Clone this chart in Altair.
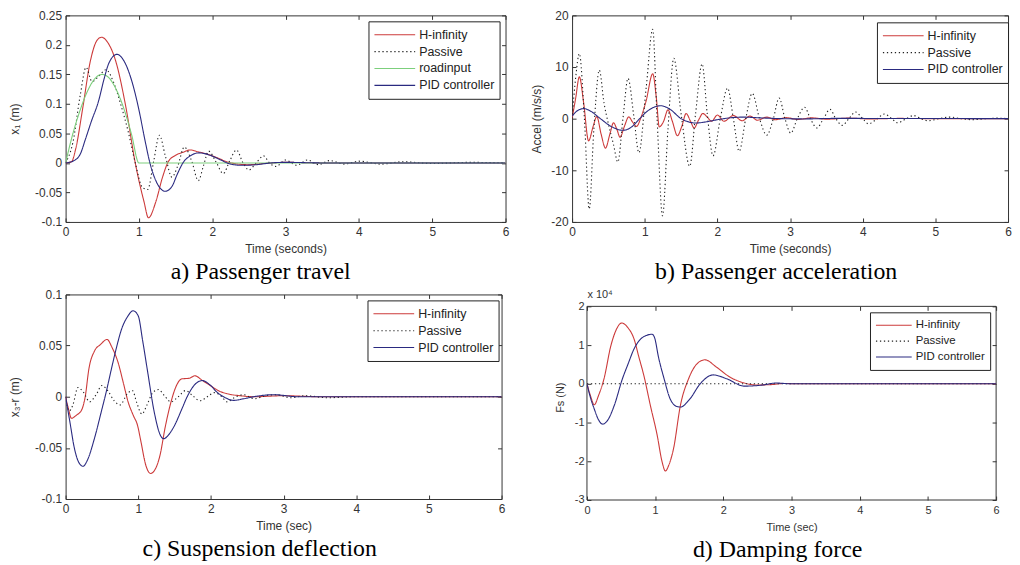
import altair as alt
import pandas as pd

# ---------------- data ----------------
XTICKS = [0, 1, 2, 3, 4, 5, 6]

# a) Passenger travel, x1 (m)
A_HINF_T = [0, 0.08, 0.14, 0.23, 0.34, 0.43, 0.49, 0.57, 0.68, 0.82, 0.95, 1.07, 1.13, 1.23, 1.32, 1.4,
            1.5, 1.6, 1.7, 1.8, 1.9, 2.0, 2.1, 2.2, 2.3, 2.5, 2.7, 3.0, 3.5, 6.0]
A_HINF_V = [0, 0.002, 0.025, 0.09, 0.174, 0.208, 0.213, 0.205, 0.174, 0.096, 0.0, -0.066, -0.093, -0.066,
            -0.025, 0.002, 0.013, 0.018, 0.022, 0.019, 0.016, 0.012, 0.007, 0.002, -0.001, -0.003, -0.001,
            0.001, 0.0, 0.0]
A_PASS_T = [0, 0.1, 0.2, 0.28, 0.36, 0.46, 0.55, 0.65, 0.75, 0.85, 0.95, 1.05, 1.12, 1.2, 1.28, 1.36, 1.45,
            1.53, 1.62, 1.72, 1.81, 1.88, 1.95, 2.05, 2.15, 2.24, 2.33, 2.42, 2.5, 2.6, 2.7, 2.78, 2.87, 3.0,
            3.15, 3.3, 3.45, 3.6, 3.8, 4.0, 4.3, 4.6, 5.0, 5.5, 6.0]
A_PASS_V = [0, 0.035, 0.115, 0.162, 0.138, 0.148, 0.158, 0.138, 0.1, 0.055, 0.0, -0.042, -0.045, 0.002,
            0.047, 0.012, -0.024, -0.005, 0.027, 0.003, -0.03, -0.005, 0.02, 0.002, -0.018, 0.004, 0.022,
            0.0, -0.012, 0.0, 0.012, 0.0, -0.006, 0.005, -0.004, 0.005, -0.003, 0.004, -0.002, 0.003,
            -0.002, 0.002, -0.001, 0.001, 0.0]
A_ROAD_T = [0, 0.1, 0.2, 0.3, 0.4, 0.5, 0.6, 0.7, 0.8, 0.9, 1.0, 6.0]
A_ROAD_V = [0, 0.05, 0.09, 0.122, 0.143, 0.15, 0.143, 0.122, 0.09, 0.048, 0.0, 0.0]
A_PID_T = [0, 0.1, 0.2, 0.27, 0.35, 0.45, 0.52, 0.59, 0.7, 0.8, 0.9, 1.0, 1.08, 1.15, 1.25, 1.36, 1.45,
           1.52, 1.6, 1.7, 1.82, 1.95, 2.1, 2.25, 2.4, 2.6, 2.8, 3.0, 3.5, 6.0]
A_PID_V = [0, 0.003, 0.015, 0.04, 0.07, 0.105, 0.14, 0.169, 0.184, 0.172, 0.14, 0.09, 0.04, 0.0, -0.035,
           -0.048, -0.04, -0.02, 0.0, 0.012, 0.017, 0.014, 0.006, -0.002, -0.004, -0.003, 0.0, 0.001, 0.0,
           0.0]
A_YTICKS = [-0.1, -0.05, 0, 0.05, 0.1, 0.15, 0.2, 0.25]

# b) Passenger acceleration (m/s/s)
B_HINF_T = [0, 0.05, 0.1, 0.16, 0.227, 0.29, 0.34, 0.4, 0.46, 0.52, 0.57, 0.62, 0.66, 0.72, 0.78, 0.83,
            0.886, 0.95, 1.02, 1.11, 1.16, 1.2, 1.26, 1.32, 1.38, 1.45, 1.51, 1.57, 1.63, 1.68, 1.74, 1.8,
            1.86, 1.92, 2.0, 2.09, 2.22, 2.34, 2.45, 2.55, 2.68, 2.8, 2.95, 3.1, 3.3, 3.5, 3.8, 4.1, 4.5,
            5.0, 6.0]
B_HINF_V = [0, 4.0, 8.1, 3.0, -4.3, -1.5, 0.4, -3.0, -5.7, -3.0, -0.8, -2.2, -3.6, -1.5, 0.35, -0.6, -1.5,
            0.3, 3.5, 8.7, 4.0, -1.6, -0.5, 1.7, -0.5, -3.3, -1.5, 1.0, -0.5, -1.8, -0.3, 1.0, 0.3, -0.5,
            0.7, -0.5, 0.6, -0.4, 0.5, -0.3, 0.3, -0.2, 0.2, -0.15, 0.15, -0.1, 0.1, -0.05, 0.05, 0.0, 0.0]
B_PASS_T = [0, 0.05, 0.1, 0.17, 0.236, 0.3, 0.375, 0.44, 0.5, 0.57, 0.63, 0.7, 0.77, 0.85, 0.92, 1.02,
            1.11, 1.17, 1.245, 1.32, 1.4, 1.5, 1.62, 1.7, 1.79, 1.86, 1.94, 2.04, 2.14, 2.22, 2.3, 2.39,
            2.48, 2.58, 2.68, 2.77, 2.85, 2.93, 3.01, 3.1, 3.2, 3.28, 3.37, 3.46, 3.55, 3.63, 3.72, 3.81,
            3.9, 4.0, 4.08, 4.2, 4.3, 4.4, 4.48, 4.6, 4.7, 4.8, 4.9, 5.05, 5.2, 5.35, 5.5, 5.7, 5.85, 6.0]
B_PASS_V = [0, 8.0, 12.6, 0.0, -17.5, -2.0, 9.4, 3.0, -1.0, -5.0, -8.4, 0.0, 7.8, 0.5, -6.6, 6.0, 17.3,
            0.0, -18.8, -2.0, 11.7, 1.0, -9.2, 1.0, 10.6, 1.0, -7.2, 0.0, 5.9, 0.0, -6.3, 0.0, 4.9, 0.0,
            -3.2, 0.0, 4.0, 0.0, -2.8, 0.0, 2.2, 0.0, -1.8, 0.0, 1.8, 0.0, -1.3, 0.0, 1.3, 0.0, -1.0, 0.0,
            0.9, 0.0, -0.8, 0.0, 0.6, 0.0, -0.4, 0.0, 0.3, 0.0, -0.2, 0.0, 0.1, 0.0]
B_PID_T = [0, 0.08, 0.16, 0.25, 0.39, 0.55, 0.7, 0.82, 0.93, 1.05, 1.22, 1.35, 1.5, 1.6, 1.7, 1.85, 2.0,
           2.2, 2.35, 2.6, 2.9, 3.2, 3.6, 6.0]
B_PID_V = [0.5, 1.6, 1.95, 1.5, 0.0, -1.6, -2.25, -1.6, 0.0, 1.6, 2.5, 1.8, 0.0, -0.6, -0.85, -0.6, -0.2,
           0.2, 0.3, 0.15, 0.0, -0.05, 0.05, 0.0]
B_YTICKS = [-20, -10, 0, 10, 20]

# c) Suspension deflection, x3-r (m)
C_HINF_T = [0, 0.04, 0.08, 0.15, 0.22, 0.27, 0.32, 0.4, 0.48, 0.57, 0.64, 0.72, 0.8, 0.86, 0.93, 0.99,
            1.04, 1.1, 1.17, 1.24, 1.3, 1.37, 1.44, 1.52, 1.6, 1.7, 1.78, 1.88, 1.99, 2.1, 2.22, 2.4, 2.6,
            3.0, 3.5, 6.0]
C_HINF_V = [0, -0.012, -0.021, -0.018, -0.013, 0.0, 0.027, 0.045, 0.051, 0.056, 0.048, 0.034, 0.012,
            -0.005, -0.018, -0.028, -0.045, -0.066, -0.075, -0.07, -0.057, -0.03, -0.008, 0.01, 0.0175,
            0.018, 0.0205, 0.016, 0.011, 0.006, 0.003, 0.001, 0.0, 0.001, 0.0, 0.0]
C_PASS_T = [0, 0.05, 0.1, 0.17, 0.25, 0.33, 0.42, 0.5, 0.58, 0.67, 0.75, 0.85, 0.92, 0.98, 1.05, 1.12,
            1.2, 1.28, 1.36, 1.45, 1.55, 1.65, 1.75, 1.85, 1.95, 2.05, 2.15, 2.22, 2.32, 2.45, 2.6, 2.75,
            2.9, 3.1, 3.3, 3.6, 4.0, 6.0]
C_PASS_V = [0, -0.014, -0.008, 0.009, 0.004, -0.005, 0.002, 0.011, 0.006, -0.004, -0.008, 0.003, 0.006,
            -0.006, -0.017, -0.008, 0.004, 0.007, 0.001, -0.005, 0.0, 0.006, 0.001, -0.004, 0.0, 0.004,
            0.0, -0.005, -0.001, 0.002, -0.002, 0.001, 0.002, -0.001, 0.001, -0.001, 0.0, 0.0]
C_PID_T = [0, 0.06, 0.12, 0.18, 0.24, 0.3, 0.4, 0.49, 0.56, 0.63, 0.7, 0.77, 0.85, 0.93, 1.0, 1.06, 1.13,
           1.22, 1.3, 1.35, 1.42, 1.5, 1.6, 1.68, 1.78, 1.88, 1.98, 2.09, 2.2, 2.31, 2.45, 2.59, 2.86,
           3.2, 6.0]
C_PID_V = [0, -0.025, -0.05, -0.064, -0.068, -0.062, -0.04, -0.015, 0.005, 0.027, 0.048, 0.066, 0.078,
           0.084, 0.079, 0.055, 0.024, -0.015, -0.037, -0.041, -0.037, -0.028, -0.012, 0.001, 0.012,
           0.0158, 0.012, 0.004, -0.001, -0.0036, -0.002, 0.0, 0.002, 0.0, 0.0]
C_YTICKS = [-0.1, -0.05, 0, 0.05, 0.1]

# d) Damping force, Fs (N) in units of 10^4
D_HINF_T = [0, 0.05, 0.107, 0.17, 0.25, 0.35, 0.43, 0.51, 0.6, 0.69, 0.76, 0.835, 0.93, 1.03, 1.1, 1.15,
            1.2, 1.27, 1.37, 1.49, 1.61, 1.73, 1.9, 2.1, 2.29, 2.48, 2.7, 2.9, 3.05, 6.0]
D_HINF_V = [0, -0.3, -0.54, -0.3, 0.13, 0.98, 1.4, 1.57, 1.45, 1.16, 0.7, 0.21, -0.56, -1.33, -2.0,
            -2.25, -2.1, -1.67, -0.56, 0.13, 0.51, 0.62, 0.43, 0.17, 0.03, -0.03, -0.02, 0.01, 0.0, 0.0]
D_PASS_T = [0, 6.0]
D_PASS_V = [0, 0]
D_PID_T = [0, 0.05, 0.107, 0.17, 0.23, 0.3, 0.4, 0.52, 0.6, 0.69, 0.835, 0.955, 0.99, 1.05, 1.125, 1.22,
           1.3, 1.37, 1.51, 1.66, 1.85, 2.05, 2.31, 2.58, 2.77, 3.0, 6.0]
D_PID_V = [0, -0.35, -0.65, -0.93, -1.04, -0.95, -0.56, 0.13, 0.5, 0.9, 1.22, 1.28, 1.2, 0.68, 0.17,
           -0.39, -0.57, -0.6, -0.39, 0.0, 0.23, 0.13, -0.06, -0.03, 0.02, 0.0, 0.0]
D_YTICKS = [-3, -2, -1, 0, 1, 2]

# ---------------- styling ----------------
COLORS = {"H-infinity": "#cc3a3a", "Passive": "#222222", "roadinput": "#7ccf7c",
          "PID controller": "#2a2a80"}
DASHES = {"H-infinity": [1, 0], "Passive": [1.3, 2.7], "roadinput": [1, 0], "PID controller": [1, 0]}
WIDTHS = {"H-infinity": 1.1, "Passive": 1.1, "roadinput": 2.2, "PID controller": 1.1}
SANS = "Liberation Sans"
SERIF = "Liberation Serif"
INK = "#333333"


def build_frame(parts):
    rows = []
    for name, ts, vs in parts:
        for t, v in zip(ts, vs):
            rows.append({"series": name, "t": t, "v": v})
    return pd.DataFrame(rows)


def panel(df, names, w, h, ydom, yticks, ytitle, xtitle, fs, yext, ytpad, ylabpad, xext, xtpad,
          lx, ly, symlen, cliph, lfs, caption, cap_dx, cap_off, top_title=None, top_tpad=0, top_gap=0):
    xs = alt.Scale(domain=[0, 6], nice=False, zero=False)
    ys = alt.Scale(domain=ydom, nice=False, zero=False)
    common = dict(domain=False, grid=False, ticks=True, tickSize=4, tickColor=INK, tickWidth=1,
                  labelFont=SANS, labelColor=INK, labelFontSize=fs, labelFlush=False,
                  labelOverlap=False, titleFont=SANS, titleFontSize=fs, titleFontWeight="normal",
                  titleColor=INK)
    xb = alt.X("t:Q", scale=xs, axis=alt.Axis(orient="bottom", values=XTICKS, title=xtitle, offset=-4,
                                                labelExpr="datum.value + ''", labelPadding=5,
                                                minExtent=xext, maxExtent=xext, titlePadding=xtpad,
                                                **common))
    yl = alt.Y("v:Q", scale=ys, axis=alt.Axis(orient="left", values=yticks, title=ytitle, offset=-4,
                                               labelExpr="datum.value + ''", labelPadding=ylabpad,
                                               minExtent=yext, maxExtent=yext, titlePadding=ytpad,
                                               **common))
    legend = alt.Legend(orient="none", legendX=lx, legendY=ly, title=None, symbolType="stroke",
                        symbolSize=symlen * symlen, clipHeight=cliph, rowPadding=0, padding=5,
                        labelOffset=3, labelFont=SANS, labelFontSize=lfs, labelColor="#222222",
                        strokeColor="#222222", fillColor="white")
    lines = alt.Chart(df).mark_line(interpolate="monotone", clip=True).encode(
        x=xb, y=yl,
        color=alt.Color("series:N", scale=alt.Scale(domain=names, range=[COLORS[n] for n in names]),
                        legend=legend),
        strokeDash=alt.StrokeDash("series:N",
                                  scale=alt.Scale(domain=names, range=[DASHES[n] for n in names])),
        strokeWidth=alt.StrokeWidth("series:N",
                                    scale=alt.Scale(domain=names, range=[WIDTHS[n] for n in names])),
    )
    top_kw = dict(orient="top", values=XTICKS, labels=False, minExtent=4, maxExtent=4,
                  offset=-4 - top_gap, **common)
    if top_title:
        top_axis = alt.Axis(title=top_title, titleAnchor="start", titlePadding=top_tpad, **top_kw)
    else:
        top_axis = alt.Axis(title=None, **top_kw)
    ticks = alt.Chart(df).mark_line(opacity=0).encode(
        x=alt.X("t:Q", scale=xs, axis=top_axis),
        y=alt.Y("v:Q", scale=ys, axis=alt.Axis(orient="right", values=yticks, labels=False, offset=-4,
                                                title=None, minExtent=4, maxExtent=4, **common)),
        detail="series:N",
    )
    layers = [lines, ticks]
    view = {}
    if top_gap:
        # the frame box sits below the top of the drawing area
        box = pd.DataFrame({"x0": [XTICKS[0]], "x1": [XTICKS[-1]],
                            "y0": [min(yticks)], "y1": [max(yticks)]})
        frame = alt.Chart(box).mark_rect(fill="white", fillOpacity=0, stroke=INK, strokeWidth=1).encode(
            x=alt.X("x0:Q", scale=xs, axis=None), x2="x1:Q",
            y=alt.Y("y0:Q", scale=ys, axis=None), y2="y1:Q")
        layers = [frame, lines, ticks]
        view = dict(view=alt.ViewBackground(stroke="transparent"))
    return alt.layer(*layers).resolve_axis(x="independent", y="independent").properties(
        width=w, height=h,
        title=alt.TitleParams(text=caption, orient="bottom", anchor="middle", frame="group",
                              dx=cap_dx, offset=cap_off, font=SERIF, fontSize=24,
                              fontWeight="normal", color="#000000"),
        **view,
    )


df_a = build_frame([("H-infinity", A_HINF_T, A_HINF_V), ("Passive", A_PASS_T, A_PASS_V),
                    ("roadinput", A_ROAD_T, A_ROAD_V), ("PID controller", A_PID_T, A_PID_V)])
df_b = build_frame([("H-infinity", B_HINF_T, B_HINF_V), ("Passive", B_PASS_T, B_PASS_V),
                    ("PID controller", B_PID_T, B_PID_V)])
df_c = build_frame([("H-infinity", C_HINF_T, C_HINF_V), ("Passive", C_PASS_T, C_PASS_V),
                    ("PID controller", C_PID_T, C_PID_V)])
df_d = build_frame([("H-infinity", D_HINF_T, D_HINF_V), ("Passive", D_PASS_T, D_PASS_V),
                    ("PID controller", D_PID_T, D_PID_V)])

three = ["H-infinity", "Passive", "PID controller"]
pa = panel(df_a, ["H-infinity", "Passive", "roadinput", "PID controller"], 443, 208, [-0.1, 0.25],
           A_YTICKS, "x\u2081 (m)", "Time (seconds)", 12, 36, 12, 4, 20, 6,
           305, 6, 41, 17, 12.5, "a) Passenger travel", -25, 5)
pb = panel(df_b, three, 439, 208, [-20, 20], B_YTICKS, "Accel (m/s/s)", "Time (seconds)", 12, 28, 5, 4,
           20, 6, 307, 7, 41, 17, 12.5, "b) Passenger acceleration", -14, 5)
pc = panel(df_c, three, 439, 206, [-0.1, 0.1], C_YTICKS, "x\u2083-r (m)", "Time (sec)", 12, 36, 12, 4,
           20, 5.5, 304, 6, 41, 17, 12.5, "c) Suspension deflection", -24, 6)
# panel d's box starts 12 px lower than panel c's; its drawing area is 12 px taller
pd_ = panel(df_d, three, 412, 207, [-3, 2 + 12 / 39], D_YTICKS, "Fs (N)", "Time (sec)", 11, 19, 7, 3,
            19, 6.5, 285, 18, 36, 16, 11.5, "d) Damping force", -14, 6, top_title="x 10\u2074",
            top_tpad=7, top_gap=12)

ind = dict(color="independent", strokeDash="independent", strokeWidth="independent")
row1 = alt.hconcat(pa, pb, spacing=20).resolve_scale(**ind)
row2 = alt.hconcat(pc, pd_, spacing=48).resolve_scale(**ind)
chart = alt.vconcat(row1, row2, spacing=3).resolve_scale(**ind).properties(
    padding={"left": 0, "top": -1.5, "right": 0, "bottom": 0}
).configure_view(stroke=INK, strokeWidth=1)

chart.save("out.html", embed_options={"renderer": "svg", "actions": False})
